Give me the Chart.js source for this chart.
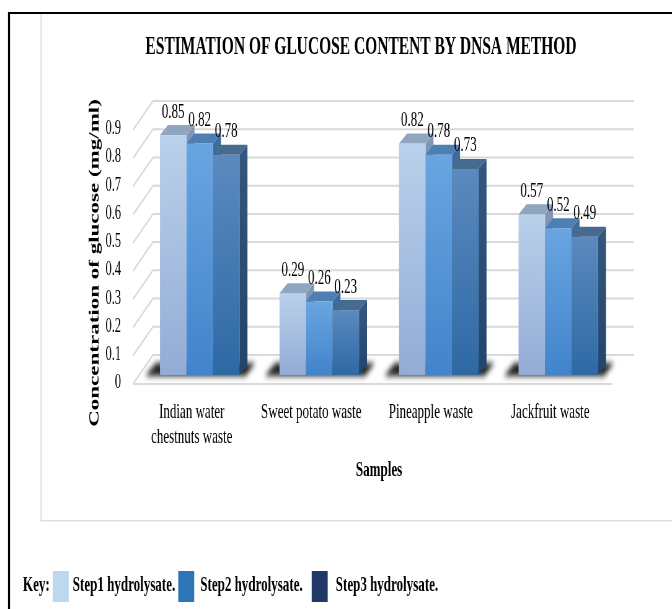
<!DOCTYPE html>
<html>
<head>
<meta charset="utf-8">
<script src="https://cdn.jsdelivr.net/npm/chart.js@4.4.1/dist/chart.umd.min.js"></script>
<style>
html, body { margin: 0; padding: 0; overflow: hidden; background: #fff; width: 672px; height: 609px; }
/* the original figure is horizontally condensed, so draw wide and squeeze */
#c { transform: scaleX(0.6199); transform-origin: 0 0; }
</style>
</head>
<body>
<canvas id="c" width="1084" height="609"></canvas>
<script>
const categories = [["Indian water", "chestnuts waste"], "Sweet potato waste", "Pineapple waste", "Jackfruit waste"];
const seriesNames = ["Step1 hydrolysate.", "Step2 hydrolysate.", "Step3 hydrolysate."];
const step1 = [0.85, 0.29, 0.82, 0.57];
const step2 = [0.82, 0.26, 0.78, 0.52];
const step3 = [0.78, 0.23, 0.73, 0.49];
const yTicks = [0, 0.1, 0.2, 0.3, 0.4, 0.5, 0.6, 0.7, 0.8, 0.9];

const squeeze = 672 / 1084;
const px = x => x / squeeze; // screen px -> canvas px (horizontal only)
const serif = '"Liberation Serif", "Times New Roman", serif';

const fronts = [['#bad1eb', '#93acd6'], ['#69a5e1', '#4284cb'], ['#5b8abf', '#2e69a4']];
const tops = ['#8fa5c0', '#4e7fb3', '#476a91'];
const sides = [['#8096b4', '#6f86a6'], ['#3f6c9f', '#335d8d'], ['#34567c', '#22456c']];
const keyColors = ['#bdd7ee', '#2e75b6', '#203864'];

const depth = { dx: px(8), dy: 10 };

function poly(ctx, pts, fill) {
	ctx.beginPath();
	ctx.moveTo(pts[0][0], pts[0][1]);
	for (let i = 1; i < pts.length; i++) ctx.lineTo(pts[i][0], pts[i][1]);
	ctx.closePath();
	ctx.fillStyle = fill;
	ctx.fill();
}

const bars3d = {
	id: 'bars3d',
	beforeDraw(chart) {
		const ctx = chart.ctx;
		ctx.save();
		ctx.fillStyle = '#fff';
		ctx.fillRect(0, 0, chart.width, chart.height);
		// light chart frame
		ctx.fillStyle = '#dedede';
		ctx.fillRect(px(40.5), 13, px(1.3), 508);
		ctx.fillRect(px(40.5), 520, chart.width, 1.5);
		// black outer box
		ctx.fillStyle = '#000';
		ctx.fillRect(px(8), 12, chart.width, 2);
		ctx.fillRect(px(8), 12, px(2), chart.height);
		ctx.restore();
	},
	beforeDatasetsDraw(chart) {
		const { ctx, chartArea: a, scales: { y } } = chart;
		ctx.save();

		// back wall, left wall and floor
		ctx.strokeStyle = '#d9d9d9';
		ctx.lineWidth = 2;
		const bl = a.left + px(13), br = a.right + px(16);
		yTicks.forEach(v => {
			const yb = y.getPixelForValue(v) - 20;
			ctx.beginPath();
			ctx.moveTo(br, yb);
			ctx.lineTo(bl, yb);
			ctx.lineTo(bl - px(20), yb + 29);
			ctx.stroke();
		});
		const yf = y.getPixelForValue(0) + 9;
		ctx.beginPath();
		ctx.moveTo(bl - px(20), yf);
		ctx.lineTo(a.right - px(6), yf);
		ctx.stroke();

		const metas = [0, 1, 2].map(d => chart.getDatasetMeta(d));

		// floor shadows
		categories.forEach((c, i) => {
			const first = metas[0].data[i], last = metas[2].data[i];
			const gl = first.x - first.width / 2;
			const gr = last.x + last.width / 2 + depth.dx;
			const base = first.base;
			ctx.save();
			ctx.filter = 'blur(3px)';
			poly(ctx, [[gl - px(15), base + 1], [gl - px(4), base - 12], [gr + px(8), base - 12], [gr - px(2), base + 1]], 'rgba(10,10,10,0.9)');
			ctx.restore();
		});

		// boxes, left to right
		categories.forEach((c, i) => {
			metas.forEach((m, d) => {
				const bar = m.data[i];
				const x0 = bar.x - bar.width / 2, x1 = bar.x + bar.width / 2;
				const y0 = bar.y, y1 = bar.base;
				let g = ctx.createLinearGradient(0, y0, 0, y1);
				g.addColorStop(0, sides[d][0]);
				g.addColorStop(1, sides[d][1]);
				poly(ctx, [[x1, y0], [x1 + depth.dx, y0 - depth.dy], [x1 + depth.dx, y1 - depth.dy], [x1, y1]], g);
				g = ctx.createLinearGradient(0, y0, 0, y1);
				g.addColorStop(0, fronts[d][0]);
				g.addColorStop(1, fronts[d][1]);
				ctx.fillStyle = g;
				ctx.fillRect(x0, y0, x1 - x0, y1 - y0);
				poly(ctx, [[x0, y0], [x0 + depth.dx, y0 - depth.dy], [x1 + depth.dx, y0 - depth.dy], [x1, y0]], tops[d]);
			});
		});

		// value labels
		ctx.fillStyle = '#000';
		ctx.font = '21px ' + serif;
		ctx.textAlign = 'center';
		ctx.textBaseline = 'middle';
		metas.forEach((m, d) => {
			m.data.forEach((bar, i) => {
				const v = chart.data.datasets[d].data[i];
				ctx.fillText(v.toFixed(2), bar.x, bar.y - 23);
			});
		});

		ctx.restore();
		return false;
	},
	afterDraw(chart) {
		const ctx = chart.ctx;
		ctx.save();
		ctx.fillStyle = '#000';

		// title
		ctx.font = 'bold 25px ' + serif;
		ctx.textAlign = 'center';
		ctx.textBaseline = 'alphabetic';
		ctx.fillText('ESTIMATION OF GLUCOSE CONTENT BY DNSA METHOD', px(361), 54);

		// y axis title
		ctx.save();
		ctx.translate(px(95), 263);
		ctx.rotate(-Math.PI / 2);
		ctx.font = 'bold 23px ' + serif;
		ctx.textBaseline = 'middle';
		ctx.fillText('Concentration of glucose (mg/ml)', 0, 0);
		ctx.restore();

		// key
		ctx.font = 'bold 21px ' + serif;
		ctx.textAlign = 'left';
		let x = px(23);
		ctx.fillText('Key:', x, 591);
		x += ctx.measureText('Key:').width + px(3);
		const afterSwatch = [4, 6, 8], afterText = [3, 9, 0];
		seriesNames.forEach((name, i) => {
			ctx.fillStyle = keyColors[i];
			ctx.fillRect(x, 571, px(16), 31);
			x += px(16) + px(afterSwatch[i]);
			ctx.fillStyle = '#000';
			ctx.fillText(name, x, 591);
			x += ctx.measureText(name).width + px(afterText[i]);
		});
		ctx.restore();
	}
};

new Chart(document.getElementById('c'), {
	type: 'bar',
	data: {
		labels: categories,
		datasets: [step1, step2, step3].map((vals, i) => ({
			label: seriesNames[i],
			data: vals,
			backgroundColor: keyColors[i],
			borderWidth: 0,
			barPercentage: 1,
			categoryPercentage: 0.665
		}))
	},
	options: {
		responsive: false,
		animation: false,
		events: [],
		layout: { padding: { left: 0, right: 87, top: 121, bottom: 125.4 } },
		plugins: {
			legend: { display: false },
			title: { display: false },
			tooltip: { enabled: false }
		},
		scales: {
			x: {
				grid: { display: false, drawTicks: false },
				border: { display: false },
				ticks: { font: { family: serif, size: 21 }, color: '#000', padding: 25, labelOffset: px(-8), maxRotation: 0, autoSkip: false },
				title: { display: true, text: 'Samples', font: { family: serif, size: 21, weight: 'bold' }, color: '#000', padding: 0 },
				afterFit(s) { s.height = 108.6; }
			},
			y: {
				min: 0,
				max: 0.9,
				grid: { display: false, drawTicks: false },
				border: { display: false },
				ticks: { font: { family: serif, size: 20 }, color: '#000', padding: 30.6, labelOffset: 8 },
				afterBuildTicks(s) { s.ticks = yTicks.map(v => ({ value: v })); },
				afterFit(s) { s.width = 225.8; }
			}
		}
	},
	plugins: [bars3d]
});
</script>
</body>
</html>
